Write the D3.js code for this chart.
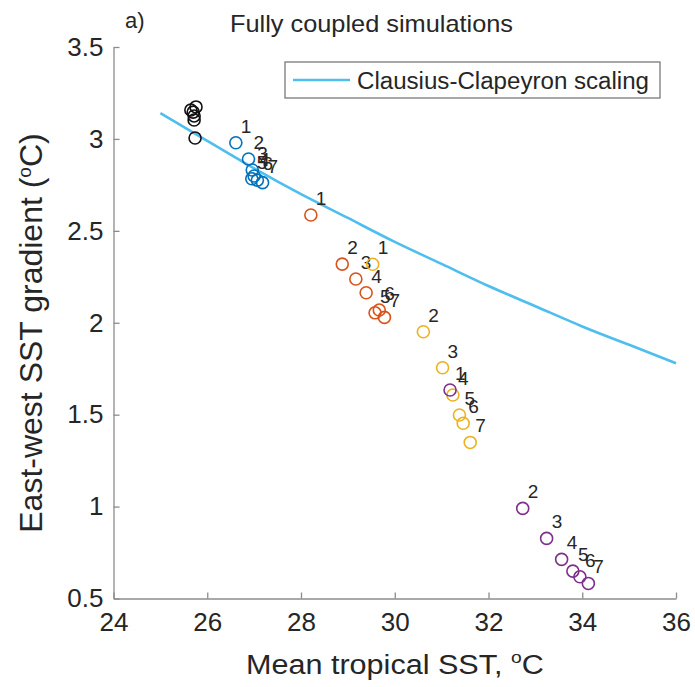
<!DOCTYPE html>
<head>
    <meta charset="utf-8">
    <title>Fully coupled simulations</title>
    <style>
        body { margin: 0; background: #fff; }
        text { font-family: "Liberation Sans", Arial, Helvetica, sans-serif; fill: #262626; }
    </style>
</head>
<body>

<svg width="695" height="687"></svg>

<script src="https://d3js.org/d3.v7.min.js"></script>

<script>

    // Clausius-Clapeyron curve
    const ccX = [25, 26, 27, 28, 29, 30, 31, 32, 33, 34, 35, 36];
    const ccY = [3.14, 2.99, 2.84, 2.70, 2.57, 2.44, 2.32, 2.20, 2.09, 1.98, 1.88, 1.78];

    // control runs (black, no numbers)
    const blackX = [25.74, 25.72, 25.72, 25.70, 25.76, 25.65];
    const blackY = [3.005, 3.103, 3.125, 3.146, 3.174, 3.157];

    // numbered runs 1..7 for each group
    const runLabels = ["1", "2", "3", "4", "5", "6", "7"];
    const blueX   = [26.61, 26.88, 26.96, 27.00, 26.95, 27.07, 27.18];
    const blueY   = [2.979, 2.891, 2.831, 2.798, 2.783, 2.776, 2.762];
    const orangeX = [28.21, 28.88, 29.17, 29.39, 29.58, 29.67, 29.78];
    const orangeY = [2.586, 2.319, 2.238, 2.163, 2.054, 2.069, 2.029];
    const yellowX = [29.53, 30.61, 31.02, 31.24, 31.38, 31.46, 31.61];
    const yellowY = [2.318, 1.951, 1.755, 1.607, 1.498, 1.453, 1.349];
    const purpleX = [31.18, 32.73, 33.24, 33.56, 33.80, 33.95, 34.13];
    const purpleY = [1.634, 0.990, 0.827, 0.713, 0.649, 0.618, 0.582];

    const xTicks = [24, 26, 28, 30, 32, 34, 36];
    const yTicks = [0.5, 1, 1.5, 2, 2.5, 3, 3.5];

    const svg = d3.select("svg");

    const x = d3.scaleLinear().domain([24, 36]).range([113.5, 676]);
    const y = d3.scaleLinear().domain([0.5, 3.5]).range([598.5, 47]);

    const axisColor = "#8c8c8c";

    // x axis (ticks pointing inward)
    const gx = svg.append("g")
        .attr("transform", "translate(0," + y(0.5) + ")")
        .call(d3.axisBottom(x).tickValues(xTicks).tickSizeInner(-6).tickSizeOuter(0).tickPadding(14).tickFormat(d3.format("d")));
    gx.select(".domain").attr("stroke", axisColor).attr("stroke-width", 1.3);
    gx.selectAll(".tick line").attr("stroke", axisColor).attr("stroke-width", 1.3);
    gx.selectAll(".tick text").attr("font-size", 26).attr("fill", "#262626")
        .attr("font-family", "Liberation Sans, Arial, sans-serif").attr("dy", "0.72em");

    // y axis
    const gy = svg.append("g")
        .attr("transform", "translate(" + x(24) + ",0)")
        .call(d3.axisLeft(y).tickValues(yTicks).tickSizeInner(-6).tickSizeOuter(0).tickPadding(10).tickFormat(d3.format("")));
    gy.select(".domain").attr("stroke", axisColor).attr("stroke-width", 1.3);
    gy.selectAll(".tick line").attr("stroke", axisColor).attr("stroke-width", 1.3);
    gy.selectAll(".tick text").attr("font-size", 26).attr("fill", "#262626")
        .attr("font-family", "Liberation Sans, Arial, sans-serif");

    // Clausius-Clapeyron line
    const line = d3.line()
        .x(d => x(d[0]))
        .y(d => y(d[1]))
        .curve(d3.curveNatural);

    svg.append("path")
        .datum(d3.zip(ccX, ccY))
        .attr("d", line)
        .attr("fill", "none")
        .attr("stroke", "#4dbeee")
        .attr("stroke-width", 2.6);

    // black control circles
    svg.append("g").selectAll("circle")
        .data(d3.zip(blackX, blackY))
        .enter().append("circle")
            .attr("cx", d => x(d[0]))
            .attr("cy", d => y(d[1]))
            .attr("r", 6)
            .attr("fill", "none")
            .attr("stroke", "#111")
            .attr("stroke-width", 1.6);

    const groups = [
        { xs: blueX, ys: blueY, color: "#0072bd" },
        { xs: orangeX, ys: orangeY, color: "#d95319" },
        { xs: yellowX, ys: yellowY, color: "#edb120" },
        { xs: purpleX, ys: purpleY, color: "#7e2f8e" }
    ];

    groups.forEach(function(gr) {
        const pts = gr.xs.map((v, i) => ({ x: v, y: gr.ys[i], label: runLabels[i] }));
        const g = svg.append("g");

        g.selectAll("circle")
            .data(pts)
            .enter().append("circle")
                .attr("cx", d => x(d.x))
                .attr("cy", d => y(d.y))
                .attr("r", 6)
                .attr("fill", "none")
                .attr("stroke", gr.color)
                .attr("stroke-width", 1.6);

        g.selectAll("text")
            .data(pts)
            .enter().append("text")
                .attr("x", d => x(d.x) + 5)
                .attr("y", d => y(d.y) - 10)
                .attr("font-size", 19)
                .attr("fill", "#111")
                .text(d => d.label);
    });

    // legend
    const legend = svg.append("g");
    legend.append("rect")
        .attr("x", 285).attr("y", 62)
        .attr("width", 375).attr("height", 36)
        .attr("fill", "#fff")
        .attr("stroke", "#6e6e6e")
        .attr("stroke-width", 1.2);
    legend.append("line")
        .attr("x1", 293).attr("x2", 350)
        .attr("y1", 80).attr("y2", 80)
        .attr("stroke", "#4dbeee")
        .attr("stroke-width", 2.6);
    legend.append("text")
        .attr("x", 357).attr("y", 88.5)
        .attr("font-size", 23)
        .attr("textLength", 292).attr("lengthAdjust", "spacingAndGlyphs")
        .text("Clausius-Clapeyron scaling");

    // title and panel letter
    svg.append("text")
        .attr("x", 230).attr("y", 32)
        .attr("font-size", 24)
        .attr("textLength", 283).attr("lengthAdjust", "spacingAndGlyphs")
        .text("Fully coupled simulations");

    svg.append("text")
        .attr("x", 125).attr("y", 28)
        .attr("font-size", 22)
        .text("a)");

    // x axis title, stretched to the reference width
    const xtg = svg.append("g");
    const xt = xtg.append("text")
        .attr("font-size", 27);
    xt.append("tspan").text("Mean tropical SST, ");
    xt.append("tspan").attr("font-size", 17).attr("dy", -11).text("o");
    xt.append("tspan").attr("dy", 11).text("C");
    const xw = xt.node().getBBox().width;
    xtg.attr("transform", "translate(246,674) scale(" + (298 / xw) + ",1)");

    // y axis title
    const yt = svg.append("text")
        .attr("transform", "translate(42,333) rotate(-90)")
        .attr("text-anchor", "middle")
        .attr("font-family", "Open Sans, Noto Sans, sans-serif")
        .attr("font-size", 32)
        .attr("fill", "#000");
    yt.append("tspan").text("East-west SST gradient (");
    yt.append("tspan").attr("font-size", 19).attr("dy", -11).text("o");
    yt.append("tspan").attr("dy", 11).text("C)");

</script>

</body>
